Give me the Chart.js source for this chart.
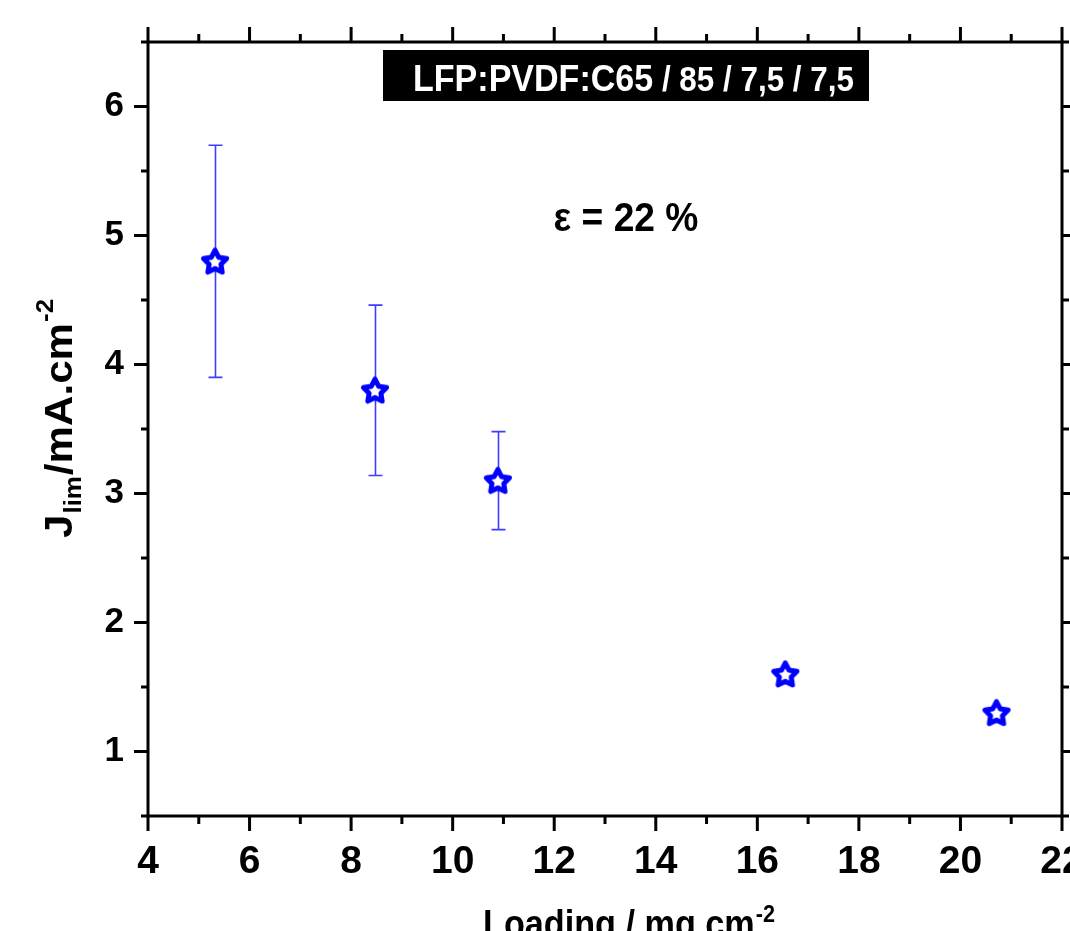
<!DOCTYPE html>
<html><head><meta charset="utf-8">
<script src="https://cdn.jsdelivr.net/npm/chart.js@4.4.0/dist/chart.umd.min.js"></script>
<style>html,body{margin:0;padding:0;background:#fff;overflow:hidden}#wrap{width:1070px;height:931px}</style>
</head><body><div id="wrap"><canvas id="c" width="1070" height="931"></canvas></div>
<script>
// ---- data ----
const loading = [5.32, 8.47, 10.89, 16.55, 20.71];
const jlim = [4.80, 3.80, 3.10, 1.60, 1.30];
const errHigh = [5.70, 4.46, 3.48, null, null];
const errLow = [3.90, 3.14, 2.72, null, null];
const xMajorTicks = [4, 6, 8, 10, 12, 14, 16, 18, 20, 22];
const xMinorTicks = [5, 7, 9, 11, 13, 15, 17, 19, 21];
const yMajorTicks = [1, 2, 3, 4, 5, 6];
const yMinorTicks = [0.5, 1.5, 2.5, 3.5, 4.5, 5.5, 6.5];
const compositionLabel = 'LFP:PVDF:C65';
const compositionValues = ' / 85 / 7,5 / 7,5';
const porosityLabel = 'ε = 22 %';
const xTitleMain = 'Loading / mg.cm';
const xTitleSup = '-2';
const yTitleMain = 'J';
const yTitleSub = 'lim';
const yTitleRest = '/mA.cm';
const yTitleSup = '-2';

const FAM = '"Liberation Sans", Arial, Helvetica, sans-serif';

function makeStar() {
  const s = 40, c = document.createElement('canvas');
  c.width = s; c.height = s;
  const g = c.getContext('2d');
  const R = 12.2, r = 6.2;
  g.beginPath();
  for (let i = 0; i < 10; i++) {
    const a = -Math.PI / 2 + i * Math.PI / 5;
    const rad = i % 2 ? r : R;
    g.lineTo(s / 2 + rad * Math.cos(a), s / 2 + 1 + rad * Math.sin(a));
  }
  g.closePath();
  g.fillStyle = '#fff'; g.fill();
  g.lineWidth = 5; g.lineJoin = 'round'; g.strokeStyle = '#0000ff'; g.stroke();
  return c;
}
const starImg = makeStar();

function drawScaled(ctx, text, x, y, sx, font) {
  ctx.save();
  ctx.font = font;
  const w = ctx.measureText(text).width * sx;
  ctx.translate(x, y); ctx.scale(sx, 1);
  ctx.fillText(text, 0, 0);
  ctx.restore();
  return w;
}

const decor = {
  id: 'decor',
  beforeDatasetsDraw(chart) {
    const ctx = chart.ctx, xs = chart.scales.x, ys = chart.scales.y;
    ctx.save();
    ctx.strokeStyle = '#3d3dff'; ctx.lineWidth = 1.6;
    loading.forEach((xv, i) => {
      if (errHigh[i] == null) return;
      const px = Math.round(xs.getPixelForValue(xv)) + 0.5;
      const pt = ys.getPixelForValue(errHigh[i]);
      const pb = ys.getPixelForValue(errLow[i]);
      ctx.beginPath();
      ctx.moveTo(px, pt); ctx.lineTo(px, pb);
      ctx.moveTo(px - 7, pt); ctx.lineTo(px + 7, pt);
      ctx.moveTo(px - 7, pb); ctx.lineTo(px + 7, pb);
      ctx.stroke();
    });
    ctx.restore();
  },
  afterDraw(chart) {
    const ctx = chart.ctx, a = chart.chartArea, xs = chart.scales.x, ys = chart.scales.y;
    ctx.save();
    ctx.strokeStyle = '#000'; ctx.lineWidth = 3; ctx.lineCap = 'butt';
    ctx.strokeRect(a.left, a.top, a.right - a.left, a.bottom - a.top);
    const tick = (vals, len) => {
      vals.forEach(v => {
        const px = xs.getPixelForValue(v);
        ctx.beginPath();
        ctx.moveTo(px, a.bottom); ctx.lineTo(px, a.bottom + len);
        ctx.moveTo(px, a.top); ctx.lineTo(px, a.top - len);
        ctx.stroke();
      });
    };
    const ytick = (vals, len) => {
      vals.forEach(v => {
        const py = ys.getPixelForValue(v);
        ctx.beginPath();
        ctx.moveTo(a.left, py); ctx.lineTo(a.left - len, py);
        ctx.moveTo(a.right, py); ctx.lineTo(a.right + len, py);
        ctx.stroke();
      });
    };
    tick(xMajorTicks, 15); tick(xMinorTicks, 8);
    ytick(yMajorTicks, 14); ytick(yMinorTicks, 7);

    // composition box
    ctx.fillStyle = '#000';
    ctx.fillRect(383, 50, 486, 51);
    ctx.fillStyle = '#fff';
    ctx.textBaseline = 'alphabetic'; ctx.textAlign = 'left';
    let x0 = 413;
    x0 += drawScaled(ctx, compositionLabel, x0, 91, 0.92, 'bold 37px ' + FAM);
    drawScaled(ctx, compositionValues, x0, 91, 0.91, 'bold 34.5px ' + FAM);

    // porosity
    ctx.fillStyle = '#000';
    ctx.font = 'bold 40px ' + FAM;
    const pw = ctx.measureText(porosityLabel).width * 0.93;
    drawScaled(ctx, porosityLabel, 626 - pw / 2, 231, 0.93, 'bold 40px ' + FAM);

    // x title
    let tx = 483;
    tx += drawScaled(ctx, xTitleMain, tx, 937, 0.9, 'bold 38px ' + FAM);
    drawScaled(ctx, xTitleSup, tx + 1, 922, 0.9, 'bold 24px ' + FAM);

    // y title (rotated)
    ctx.save();
    ctx.translate(72, 538);
    ctx.rotate(-Math.PI / 2);
    let ty = 0;
    ty += drawScaled(ctx, yTitleMain, ty, 0, 1.08, 'bold 39px ' + FAM);
    ty += drawScaled(ctx, yTitleSub, ty + 1, 9, 1.08, 'bold 24px ' + FAM) + 2;
    ty += drawScaled(ctx, yTitleRest, ty, 0, 1.08, 'bold 39px ' + FAM);
    drawScaled(ctx, yTitleSup, ty + 1, -19, 1.08, 'bold 24px ' + FAM);
    ctx.restore();
    ctx.restore();
  }
};

new Chart(document.getElementById('c'), {
  type: 'scatter',
  data: {
    datasets: [{
      data: loading.map((x, i) => ({ x: x, y: jlim[i] })),
      pointStyle: starImg,
      pointRadius: 14,
      pointHoverRadius: 14,
      showLine: false,
      borderColor: '#0000ff',
      backgroundColor: '#ffffff'
    }]
  },
  options: {
    responsive: false,
    animation: false,
    events: [],
    layout: { padding: { left: 0, top: 42, right: 8, bottom: 0 }, autoPadding: false },
    plugins: { legend: { display: false }, tooltip: { enabled: false } },
    scales: {
      x: {
        type: 'linear', min: 4, max: 22,
        afterFit(s) { s.height = 115; s.paddingLeft = 0; s.paddingRight = 0; },
        afterBuildTicks(s) { s.ticks = xMajorTicks.map(v => ({ value: v })); },
        grid: { display: false, drawTicks: false },
        border: { display: false },
        ticks: { padding: 23, maxRotation: 0, minRotation: 0, autoSkip: false, color: '#000',
                 font: { family: FAM, size: 39, weight: 'bold' } }
      },
      y: {
        type: 'linear', min: 0.5, max: 6.5,
        afterFit(s) { s.width = 148; s.paddingTop = 0; s.paddingBottom = 0; },
        afterBuildTicks(s) { s.ticks = yMajorTicks.map(v => ({ value: v })); },
        grid: { display: false, drawTicks: false },
        border: { display: false },
        ticks: { padding: 24, autoSkip: false, color: '#000',
                 font: { family: FAM, size: 35, weight: 'bold' } }
      }
    }
  },
  plugins: [decor]
});
</script>
</body></html>
